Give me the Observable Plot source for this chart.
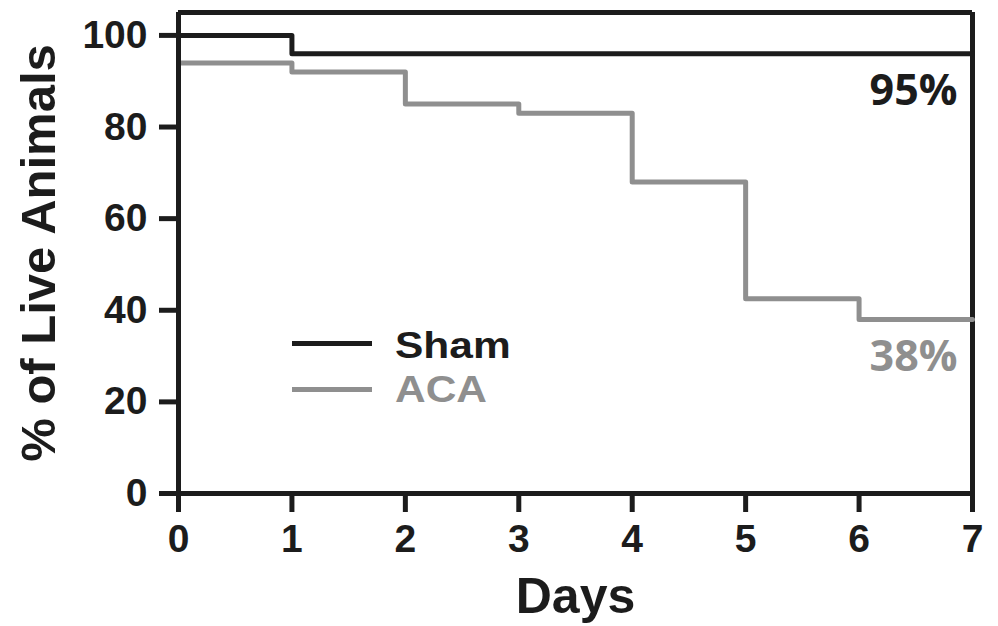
<!DOCTYPE html>
<html>
<head>
<meta charset="utf-8">
<script src="https://cdn.jsdelivr.net/npm/d3@7"></script>
<script src="https://cdn.jsdelivr.net/npm/@observablehq/plot@0.6"></script>
<style>
  html, body { margin: 0; padding: 0; background: #fff; }
  #wrap { position: relative; width: 998px; height: 626px; }
  .leg { position: absolute; left: 0; top: 0; font-family: "Liberation Sans", Arial, sans-serif; font-weight: bold; font-size: 36px; line-height: 1; }
  .leg .sw { position: absolute; width: 80px; height: 5px; }
  .leg .lab { position: absolute; white-space: nowrap; transform: scaleX(1.18); transform-origin: left center; }
</style>
</head>
<body>
<div id="wrap"></div>
<script>
// Data
const shamDays = [0, 1, 7];
const shamPct  = [100, 96, 96];
const acaDays  = [0, 0, 1, 2, 3, 4, 5, 6, 7];
const acaPct   = [100, 94, 92, 85, 83, 68, 42.5, 38, 38];
const seriesNames  = ["Sham", "ACA"];
const seriesColors = ["#1c1c1c", "#8f8f8f"];
const endLabels = ["95%", "38%"];
const xTicks = [0, 1, 2, 3, 4, 5, 6, 7];
const yTicks = [0, 20, 40, 60, 80, 100];

const sham = shamDays.map((d, i) => ({day: d, pct: shamPct[i], series: "Sham"}));
const aca  = acaDays.map((d, i) => ({day: d, pct: acaPct[i], series: "ACA"}));
const ends = [
  {day: 7, pct: shamPct[shamPct.length - 1], label: endLabels[0], color: seriesColors[0]},
  {day: 7, pct: acaPct[acaPct.length - 1], label: endLabels[1], color: seriesColors[1]}
];

const font = "'Liberation Sans', Arial, sans-serif";
const ink = "#1c1c1c";

const chart = Plot.plot({
  width: 998,
  height: 626,
  marginLeft: 178,
  marginRight: 26,
  marginTop: 12,
  marginBottom: 133,
  style: {fontFamily: font, fontWeight: "bold", background: "#fff", color: ink},
  x: {domain: [0, 7], ticks: xTicks},
  y: {domain: [0, 105], ticks: yTicks},
  marks: [
    // frame top & right
    Plot.ruleY([105], {x1: 0, x2: 7, stroke: ink, strokeWidth: 5}),
    Plot.ruleX([7], {y1: 0, y2: 105, stroke: ink, strokeWidth: 5}),
    // series
    Plot.line(aca, {x: "day", y: "pct", curve: "step-after", stroke: seriesColors[1], strokeWidth: 5}),
    Plot.line(sham, {x: "day", y: "pct", curve: "step-after", stroke: seriesColors[0], strokeWidth: 5}),
    // axes
    Plot.ruleX([0], {y1: 0, y2: 105, stroke: ink, strokeWidth: 5}),
    Plot.ruleY([0], {x1: 0, x2: 7, stroke: ink, strokeWidth: 5}),
    Plot.axisX({ticks: xTicks, tickSize: 19, tickPadding: 12, strokeWidth: 5, stroke: ink, fontSize: 39, fill: ink, label: null, tickFormat: d => String(d)}),
    Plot.axisY({ticks: yTicks, tickSize: 19, tickPadding: 12, strokeWidth: 5, stroke: ink, fontSize: 39, fill: ink, label: null, tickFormat: d => String(d)}),
    // axis titles
    Plot.text(["Days"], {frameAnchor: "bottom", textAnchor: "middle", dy: 103, fontSize: 50, fill: ink, lineAnchor: "middle"}),
    Plot.text(["% of Live Animals"], {frameAnchor: "left", textAnchor: "middle", rotate: -90, dx: -139, dy: 0, fontSize: 49, fill: ink, lineAnchor: "middle"}),
    // end labels
    Plot.text(ends, {x: "day", y: "pct", text: "label", textAnchor: "end", lineAnchor: "middle",
      dx: -15, dy: 38, fontSize: 43, fontFamily: "'Open Sans', sans-serif", fontWeight: "bold",
      fill: "color"})
  ]
});

const wrap = document.getElementById("wrap");
wrap.appendChild(chart);

// Legend overlay
const legPos = [{line: 340.5, lab: 328}, {line: 386.5, lab: 372}];
seriesNames.forEach((name, i) => {
  const div = document.createElement("div");
  div.className = "leg";
  const sw = document.createElement("div");
  sw.className = "sw";
  sw.style.background = seriesColors[i];
  sw.style.left = "292px";
  sw.style.top = legPos[i].line + "px";
  const lab = document.createElement("div");
  lab.className = "lab";
  lab.textContent = name;
  lab.style.color = seriesColors[i];
  lab.style.left = "395px";
  lab.style.top = legPos[i].lab + "px";
  div.appendChild(sw);
  div.appendChild(lab);
  wrap.appendChild(div);
});
</script>
</body>
</html>
